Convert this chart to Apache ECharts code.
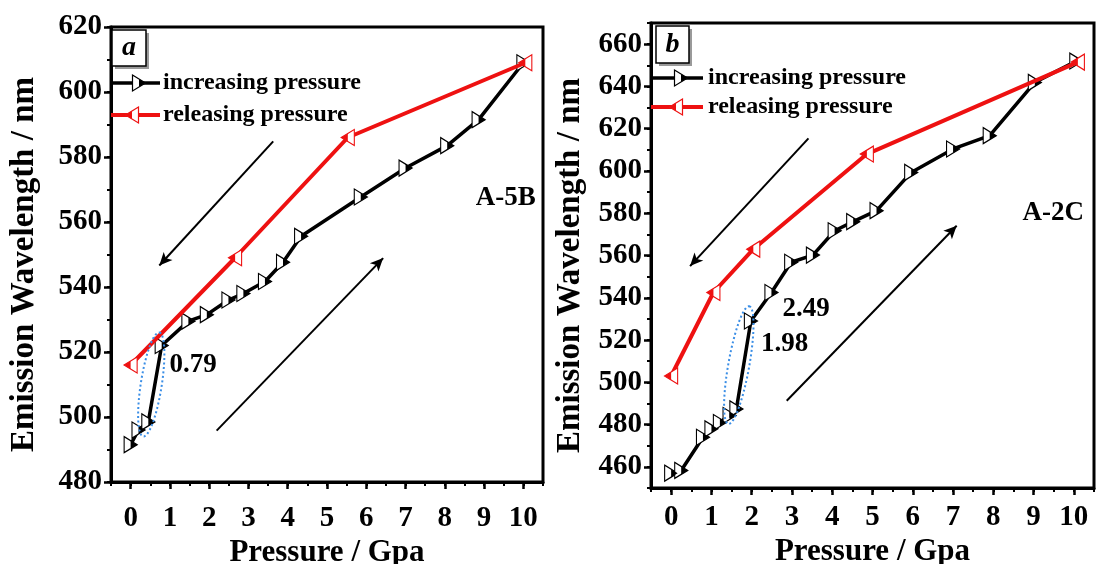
<!DOCTYPE html>
<html>
<head>
<meta charset="utf-8">
<script src="https://cdn.jsdelivr.net/npm/echarts@6/dist/echarts.min.js"></script>
<style>html,body{margin:0;padding:0;background:#fff}#c{width:1096px;height:564px}</style>
</head>
<body>
<div id="c"></div>
<script>
// ---------- data ----------
const xTicks = [0,1,2,3,4,5,6,7,8,9,10];
const yTicksA = [480,500,520,540,560,580,600,620];
const yTicksB = [460,480,500,520,540,560,580,600,620,640,660];

// panel a (A-5B)
const incA_x = [0,0.2,0.45,0.79,1.47,1.94,2.49,2.87,3.42,3.88,4.34,5.86,7.0,8.06,8.86,10.0];
const incA_y = [491.5,496,498.5,522,529.5,531.5,536,538,541.7,547.6,555.6,567.7,576.6,583.5,591.5,609];
const relA_x = [10.05,5.53,2.66,0];
const relA_y = [609,586,549,516];

// panel b (A-2C)
const incB_x = [0,0.25,0.79,1.0,1.21,1.45,1.62,1.98,2.49,2.98,3.52,4.06,4.52,5.1,5.96,7.0,7.91,9.03,10.06];
const incB_y = [457,458.3,474,478,481,484.3,487.4,529,542.5,556.8,560.2,571.7,576,581.2,599.3,610.4,616.7,641.9,652];
const relB_x = [10.1,4.86,2.04,1.05,0];
const relB_y = [651.5,608,563,542.5,503];

// annotations
const annotA_text = ['0.79','A-5B'];
const annotA_x = [1.59,9.55];
const annotA_y = [516,567.5];
const annotB_text = ['2.49','1.98','A-2C'];
const annotB_x = [3.35,2.82,9.49];
const annotB_y = [534.7,518.2,580];

// arrows: [x1,y1,x2,y2]
const arrowsA = [[3.63,584.8,0.73,546.6],[2.19,495.8,6.43,548.9]];
const arrowsB = [[3.41,615.4,0.47,555],[2.87,491.3,7.09,574.1]];
// dotted ellipses: [x1,y1,x2,y2] end points of the long axis
const ellipseA = [[0.32,494,0.73,526]];
const ellipseB = [[1.42,480.3,1.94,536]];

const legendNames = ['increasing pressure','releasing pressure'];
const panelLabels = ['a','b'];
const xName = 'Pressure / Gpa';
const yName = 'Emission Wavelength / nm';

// ---------- helpers ----------
const FONT = '"Liberation Serif","Times New Roman",serif';
const RED = '#ee1111';
const pair = (xs, ys) => xs.map((x,i)=>[x, ys[i]]);
const TRI_R = 'path://M0,0L10,5L0,10Z';
const TRI_L = 'path://M10,0L0,5L10,10Z';
const MW = 13, MH = 16;

function panelSeries(gi, incX, incY, relX, relY, annT, annX, annY, arrows, ell) {
  const xi = gi*2, yi = gi*2;
  const inc = pair(incX, incY), rel = pair(relX, relY);
  return [
    {type:'line', xAxisIndex:xi, yAxisIndex:yi, data:inc, z:3,
      lineStyle:{color:'#000', width:3.5}, symbol:TRI_R, symbolSize:[MW,MH],
      itemStyle:{color:'#fff', borderColor:'#000', borderWidth:1.2}, showAllSymbol:true},
    {type:'scatter', xAxisIndex:xi, yAxisIndex:yi, data:inc, z:4,
      symbol:TRI_R, symbolSize:[MW/2,MH/2], symbolOffset:[MW/4,0], itemStyle:{color:'#000', opacity:1}},
    {type:'line', xAxisIndex:xi, yAxisIndex:yi, data:rel, z:5,
      lineStyle:{color:RED, width:4}, symbol:TRI_L, symbolSize:[MW,MH],
      itemStyle:{color:'#fff', borderColor:RED, borderWidth:1.2}, showAllSymbol:true},
    {type:'scatter', xAxisIndex:xi, yAxisIndex:yi, data:rel, z:6,
      symbol:TRI_L, symbolSize:[MW/2,MH/2], symbolOffset:[-MW/4,0], itemStyle:{color:RED, opacity:1}},
    {type:'custom', xAxisIndex:xi, yAxisIndex:yi, data:ell, z:7,
      renderItem:function(params, api){
        const a = api.coord([api.value(0), api.value(1)]);
        const b = api.coord([api.value(2), api.value(3)]);
        const hw = 10.5;
        const cx=(a[0]+b[0])/2, cy=(a[1]+b[1])/2;
        const dx=b[0]-a[0], dy=b[1]-a[1];
        const L=Math.hypot(dx,dy)/2, ux=dx/(2*L), uy=dy/(2*L), vx=-uy, vy=ux;
        const pts=[];
        for(let i=0;i<90;i++){const t=i/90*2*Math.PI;const c=Math.cos(t)*L,s=Math.sin(t)*hw;pts.push([cx+ux*c+vx*s, cy+uy*c+vy*s]);}
        return {type:'polygon', shape:{points:pts}, style:{fill:'none', stroke:'#3a8ee6', lineWidth:2, lineDash:[2,2.5]}};
      }},
    {type:'custom', xAxisIndex:xi, yAxisIndex:yi, z:8,
      data: annT.map((t,i)=>[annX[i], annY[i], i]),
      renderItem:function(params, api){
        const p = api.coord([api.value(0), api.value(1)]);
        return {type:'text', x:p[0], y:p[1],
          style:{text:annT[api.value(2)], font:'bold 27px '+FONT, fill:'#000',
            align:'center', verticalAlign:'middle', textAlign:'center', textVerticalAlign:'middle'}};
      },
      markLine:{silent:true, symbol:['none','arrow'], symbolSize:[9,13], label:{show:false},
        lineStyle:{color:'#000', width:2, type:'solid'},
        data: arrows.map(a=>[{coord:[a[0],a[1]]},{coord:[a[2],a[3]]}])}}
  ];
}

function xAxes(gi, margin, nameGap) {
  return [
    {gridIndex:gi, type:'value', min:-0.5, max:10.5, interval:0.5,
      axisLine:{show:true, onZero:false, lineStyle:{color:'#000', width:3}},
      axisTick:{show:true, customValues:xTicks, length:7, lineStyle:{color:'#000', width:2.5}},
      axisLabel:{customValues:xTicks, color:'#000', fontSize:29, fontWeight:'bold', fontFamily:FONT, margin:margin},
      splitLine:{show:false},
      name:xName, nameLocation:'middle', nameGap:nameGap,
      nameTextStyle:{color:'#000', fontSize:31, fontWeight:'bold', fontFamily:FONT}},
    {gridIndex:gi, type:'value', min:-0.5, max:10.5, interval:0.5, position:'bottom',
      axisLine:{show:false, onZero:false}, axisTick:{show:true, length:4, lineStyle:{color:'#000', width:2}},
      axisLabel:{show:false}, splitLine:{show:false}}
  ];
}
function yAxes(gi, min, max, ticks, nameGap) {
  return [
    {gridIndex:gi, type:'value', min:min, max:max, interval:10, position:'left',
      axisLine:{show:true, onZero:false, lineStyle:{color:'#000', width:3}},
      axisTick:{show:true, customValues:ticks, length:7, lineStyle:{color:'#000', width:2.5}},
      axisLabel:{customValues:ticks, color:'#000', fontSize:29, fontWeight:'bold', fontFamily:FONT, margin:9},
      splitLine:{show:false},
      name:yName, nameLocation:'middle', nameGap:nameGap, nameRotate:90,
      nameTextStyle:{color:'#000', fontSize:33, fontWeight:'bold', fontFamily:FONT, padding:[0,20,0,0]}},
    {gridIndex:gi, type:'value', min:min, max:max, interval:10, position:'left',
      axisLine:{show:false, onZero:false}, axisTick:{show:true, length:4, lineStyle:{color:'#000', width:2}},
      axisLabel:{show:false}, splitLine:{show:false}}
  ];
}

function legendGraphics(x0, x1, tx, y1, y2, mx1, mx2, label, bx, by, bw, bh) {
  const g = [];
  g.push({type:'rect', shape:{x:bx+3, y:by+3, width:bw, height:bh}, style:{fill:'#9a9a9a'}, z:100});
  g.push({type:'rect', shape:{x:bx, y:by, width:bw, height:bh}, style:{fill:'#fff', stroke:'#000', lineWidth:1.5}, z:101});
  g.push({type:'text', x:bx+bw/2, y:by+bh/2, z:102,
    style:{text:label, font:'italic bold 28px '+FONT, fill:'#000', align:'center', verticalAlign:'middle', textAlign:'center', textVerticalAlign:'middle'}});
  g.push({type:'line', shape:{x1:x0, y1:y1, x2:x1, y2:y1}, style:{stroke:'#000', lineWidth:3.5}, z:100});
  g.push({type:'polygon', shape:{points:[[mx1-MW/2,y1-MH/2],[mx1+MW/2,y1],[mx1-MW/2,y1+MH/2]]}, style:{fill:'#fff', stroke:'#000', lineWidth:1.2}, z:101});
  g.push({type:'polygon', shape:{points:[[mx1,y1-MH/4],[mx1+MW/2,y1],[mx1,y1+MH/4]]}, style:{fill:'#000'}, z:102});
  g.push({type:'text', x:tx, y:y1, z:102, style:{text:legendNames[0], font:'bold 24px '+FONT, fill:'#000', align:'left', verticalAlign:'middle', textAlign:'left', textVerticalAlign:'middle'}});
  g.push({type:'line', shape:{x1:x0, y1:y2, x2:x1, y2:y2}, style:{stroke:RED, lineWidth:4}, z:100});
  g.push({type:'polygon', shape:{points:[[mx2+MW/2,y2-MH/2],[mx2-MW/2,y2],[mx2+MW/2,y2+MH/2]]}, style:{fill:'#fff', stroke:RED, lineWidth:1.2}, z:101});
  g.push({type:'polygon', shape:{points:[[mx2,y2-MH/4],[mx2-MW/2,y2],[mx2,y2+MH/4]]}, style:{fill:RED}, z:102});
  g.push({type:'text', x:tx, y:y2, z:102, style:{text:legendNames[1], font:'bold 24px '+FONT, fill:'#000', align:'left', verticalAlign:'middle', textAlign:'left', textVerticalAlign:'middle'}});
  return g;
}

const chart = echarts.init(document.getElementById('c'), null, {renderer:'canvas'});
chart.setOption({
  animation:false,
  backgroundColor:'#fff',
  grid:[
    {left:111, top:27, width:432, height:455, show:true, borderColor:'#000', borderWidth:3, backgroundColor:'rgba(0,0,0,0)', outerBoundsMode:'none', containLabel:false},
    {left:651, top:23, width:443, height:465, show:true, borderColor:'#000', borderWidth:3, backgroundColor:'rgba(0,0,0,0)', outerBoundsMode:'none', containLabel:false}
  ],
  xAxis:[...xAxes(0, 22, 45), ...xAxes(1, 15, 48)],
  yAxis:[...yAxes(0, 480, 620, yTicksA, 70), ...yAxes(1, 450, 670, yTicksB, 64)],
  series:[
    ...panelSeries(0, incA_x, incA_y, relA_x, relA_y, annotA_text, annotA_x, annotA_y, arrowsA, ellipseA),
    ...panelSeries(1, incB_x, incB_y, relB_x, relB_y, annotB_text, annotB_x, annotB_y, arrowsB, ellipseB)
  ],
  graphic:[
    ...legendGraphics(111, 160, 163, 83, 115, 139, 132, panelLabels[0], 112, 30, 34, 36),
    ...legendGraphics(651, 703, 708, 78, 107, 681, 676, panelLabels[1], 656, 26, 33, 37)
  ]
});
</script>
</body>
</html>
